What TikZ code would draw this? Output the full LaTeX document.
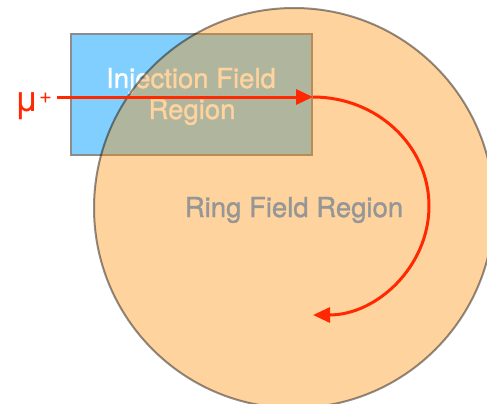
\documentclass[tikz,border=0pt]{standalone}
\usepackage{fontspec}
\setmainfont{TeX Gyre Heros}
\newfontfamily\heavyheros[FakeBold=1.2]{TeX Gyre Heros}
\usetikzlibrary{arrows.meta}
\definecolor{injblue}{RGB}{128,207,255}
\definecolor{ringorange}{RGB}{255,140,0}
\definecolor{murred}{RGB}{255,40,0}
\definecolor{ringtext}{RGB}{150,150,150}
\tikzset{
  injbox/.style={draw=black!45, line width=2pt, fill=injblue, minimum width=241pt, minimum height=121pt, inner sep=0pt},
  ringdisc/.style={circle, draw=black, draw opacity=0.43, line width=2pt, fill=ringorange, fill opacity=0.38, minimum size=400pt, inner sep=0pt},
  bigtext/.style={font=\heavyheros\fontsize{27.5}{31}\selectfont, inner sep=0pt, anchor=base},
  redpath/.style={draw=murred, line width=3pt, -{Triangle[length=17pt,width=15pt]}}
}
\begin{document}
\begin{tikzpicture}[x=1pt,y=-1pt]
\clip (0,0) rectangle (487,404);
\fill[white] (0,0) rectangle (487,404);
\node[injbox] (inj) at (191.5,94.5) {};
\node[bigtext, text=white] (injtxt1) at (191,88) {Injection Field};
\node[bigtext, text=white] (injtxt2) at (192,119) {Region};
\node[ringdisc] (ring) at (294,208) {};
\node[bigtext, text=ringtext] (ringtxt) at (294,217) {Ring Field Region};
\node[anchor=base west, inner sep=0pt, text=murred, font=\fontsize{36}{36}\selectfont] (mu) at (14,111) {μ\raisebox{8pt}{\fontsize{22}{22}\selectfont +}};
\coordinate (start) at (57,97);
\draw[redpath] (start) -- (inj.east |- start);
\draw[redpath] (inj.east |- start) arc[start angle=-90, end angle=90, x radius=116, y radius=109];
\end{tikzpicture}
\end{document}
